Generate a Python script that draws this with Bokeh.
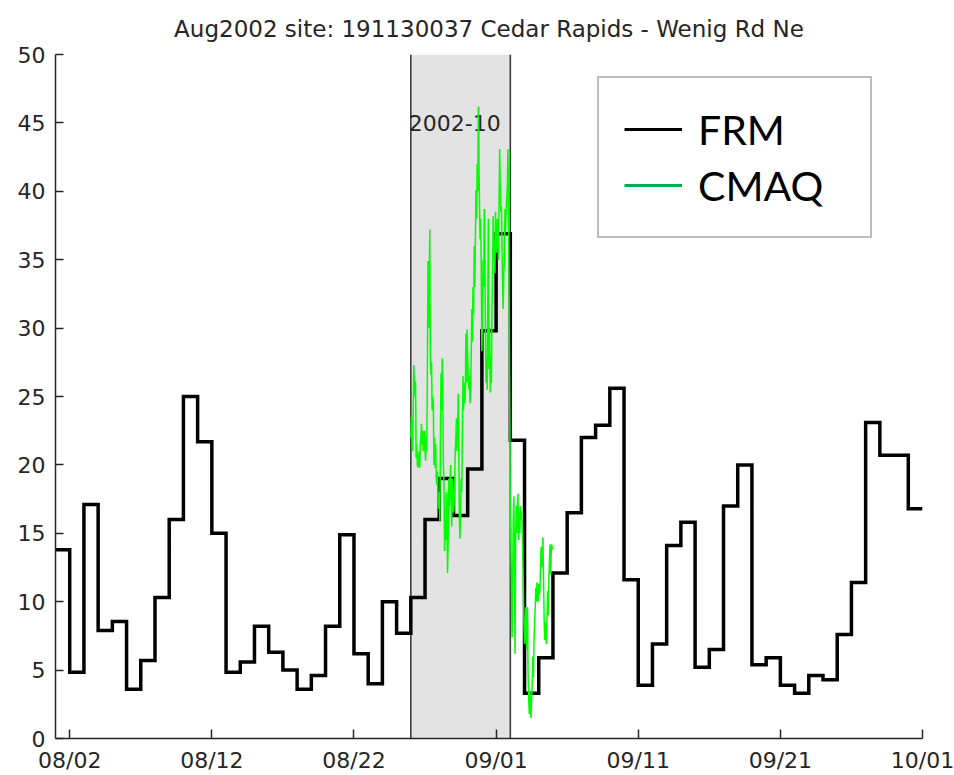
from datetime import datetime, timedelta

from bokeh.plotting import figure
from bokeh.models import (Range1d, FixedTicker, DatetimeTickFormatter, BoxAnnotation,
                          Span, Legend, LegendItem, Label)
from bokeh.embed import file_html
from bokeh.resources import INLINE

# ---------------- data ----------------
title_text = "Aug2002 site: 191130037 Cedar Rapids - Wenig Rd Ne"
series_names = ["FRM", "CMAQ"]

x_start = "2002-08-01"
x_end = "2002-10-01"
x_tick_dates = ["2002-08-02", "2002-08-12", "2002-08-22", "2002-09-01",
                "2002-09-11", "2002-09-21", "2002-10-01"]
y_ticks = [0, 5, 10, 15, 20, 25, 30, 35, 40, 45, 50]

# FRM daily values, 08/01 .. 09/30
frm_start = "2002-08-01"
frm_daily = [13.8, 4.85, 17.1, 7.9, 8.55, 3.6, 5.7, 10.3, 16.0, 25.0,
             21.7, 15.0, 4.85, 5.6, 8.2, 6.3, 5.0, 3.6, 4.6, 8.2,
             14.9, 6.2, 4.0, 10.0, 7.7, 10.3, 16.0, 19.0, 16.3, 19.7,
             29.8, 36.9, 21.8, 3.3, 5.9, 12.1, 16.5, 22.0, 22.9, 25.6,
             11.6, 3.9, 6.9, 14.1, 15.8, 5.2, 6.5, 17.0, 20.0, 5.4,
             5.9, 3.9, 3.3, 4.6, 4.3, 7.6, 11.4, 23.1, 20.7, 20.7,
             16.8]

# CMAQ hourly values from 08/26 00:00
cmaq_start = "2002-08-26 00:00"
cmaq_hourly = [
    22.0, 23.5, 22.5, 21.0, 24.0, 27.3, 26.0, 25.0, 26.1, 20.5,
    21.5, 20.0, 19.8, 20.2, 21.0, 19.8, 21.5, 22.0, 23.0, 21.5,
    22.5, 21.0, 21.5, 22.5, 21.0, 20.3, 22.0, 21.0, 27.0, 34.9,
    30.0, 33.0, 37.2, 28.0, 26.6, 27.5, 24.0, 25.0, 24.5, 20.0,
    22.0, 19.8, 21.5, 19.0, 18.5, 19.5, 17.5, 16.8, 18.0, 15.9,
    22.0, 26.7, 24.0, 27.8, 25.0, 20.0, 18.5, 13.7, 16.0, 14.5,
    18.0, 17.0, 12.1, 14.5,
    19.0, 17.0, 18.0, 20.0, 17.5, 15.5, 19.0, 18.0, 16.5, 17.0,
    19.0, 21.0, 22.0, 23.4, 21.0, 22.5, 25.2, 21.0, 16.0, 14.6,
    17.0, 19.0, 18.0, 22.0, 26.5, 24.0, 26.0, 24.5, 25.0, 29.6,
    26.0, 29.9, 28.0, 26.3, 25.5, 26.5, 24.5, 25.5, 28.0, 31.4,
    29.0, 33.0, 31.0, 36.0, 33.0, 36.5, 40.1, 38.0, 42.0, 40.0,
    46.2, 42.0, 39.0, 36.5, 38.0, 34.0, 28.3, 31.0, 35.0, 33.0,
    38.7, 36.0, 30.0, 26.0, 28.0, 25.5, 32.0, 38.0, 27.0, 30.0,
    25.3, 28.0, 26.0, 31.0, 34.0, 38.2, 35.0, 36.5, 34.0, 38.5,
    35.5, 36.0, 38.0, 36.5, 35.0, 39.0, 43.1, 40.0, 38.5, 38.9,
    36.0, 33.0, 31.4, 34.0, 35.0, 38.7, 37.0, 38.5, 39.6, 40.5,
    43.1, 40.0, 32.0, 25.0, 16.0, 14.3,
    11.0, 7.4, 12.0, 16.0, 17.7, 12.0, 6.2, 15.0, 17.0, 15.0,
    17.2, 17.9, 14.5, 16.5, 15.0, 17.0, 16.0, 16.6, 15.5, 14.0,
    11.0, 8.5, 6.9, 7.5, 9.6, 8.0, 6.5, 9.6, 4.7, 3.0,
    1.8, 3.5, 2.0, 1.5, 3.0, 4.0, 6.0, 4.5, 7.0, 8.5,
    9.5, 11.0, 10.0, 11.4, 11.3, 10.0, 11.3, 10.5, 10.8, 12.5,
    14.0, 12.5, 13.5, 14.7, 12.0, 9.0, 7.2, 8.5, 7.5, 6.9,
    9.0, 10.8, 9.0, 11.5, 13.0, 14.2, 12.0, 13.5, 14.2, 13.8,
]

episode_start = "2002-08-26"
episode_end = "2002-09-02"
episode_label = "2002-10"
episode_label_y = 45

# ---------------- helpers ----------------
EPOCH = datetime(1970, 1, 1)


def ms(d):
    if isinstance(d, str):
        d = datetime.fromisoformat(d)
    return (d - EPOCH).total_seconds() * 1000.0


# FRM as a daily step
d0 = datetime.fromisoformat(frm_start)
edges = [d0 + timedelta(days=i) for i in range(len(frm_daily) + 1)]
frm_x, frm_y = [], []
for i, v in enumerate(frm_daily):
    frm_x += [ms(edges[i]), ms(edges[i + 1])]
    frm_y += [v, v]

c0 = datetime.fromisoformat(cmaq_start)
cmaq_x = [ms(c0 + timedelta(hours=i)) for i in range(len(cmaq_hourly))]

# ---------------- figure ----------------
TXT = "#262626"
p = figure(width=954, height=775, x_axis_type="datetime",
           x_range=Range1d(ms(x_start), ms(x_end)), y_range=Range1d(0, 50),
           output_backend="svg", toolbar_location=None,
           min_border_left=55, min_border_right=32, min_border_top=53, min_border_bottom=37)
p.outline_line_color = None
p.background_fill_color = "white"
p.xgrid.visible = False
p.ygrid.visible = False

p.title.text = title_text
p.title.align = "center"
p.title.text_font = "DejaVu Sans"
p.title.text_font_size = "23px"
p.title.text_font_style = "normal"
p.title.text_color = TXT
p.title.standoff = 26

# shaded episode
box = BoxAnnotation(left=ms(episode_start), right=ms(episode_end), bottom=0, top=50,
                    fill_color="#e3e3e3", fill_alpha=1.0, line_color=None, level="underlay")
p.add_layout(box)
for d in (episode_start, episode_end):
    p.add_layout(Span(location=ms(d), dimension="height", line_color="#3c3c3c",
                      line_width=1.6, level="underlay"))
p.add_layout(Label(x=ms(episode_start), y=episode_label_y, text=episode_label,
                   text_baseline="middle", text_align="left", text_font="DejaVu Sans",
                   text_font_size="22px", text_color=TXT, level="underlay", x_offset=-2))

r_frm = p.line(frm_x, frm_y, line_color="black", line_width=3.5, line_join="miter")
r_cmaq = p.line(cmaq_x, cmaq_hourly, line_color="#00ff00", line_width=1.5)

# legend proxies (a single undefined point: nothing drawn in the plot)
nan = float("nan")
r_frm_leg = p.line([ms(x_start)], [nan], line_color="black", line_width=3)
r_cmaq_leg = p.line([ms(x_start)], [nan], line_color="#00b050", line_width=3)

legend = Legend(items=[LegendItem(label=series_names[0], renderers=[r_frm_leg]),
                       LegendItem(label=series_names[1], renderers=[r_cmaq_leg])],
                location=(542, 500), margin=0, padding=25, spacing=4,
                glyph_width=58, glyph_height=52, label_height=52, label_width=147,
                label_standoff=16, label_text_font="Lato", label_text_font_size="41px",
                label_text_color="black", border_line_color="#7a7a7a", border_line_width=2,
                background_fill_color="white", background_fill_alpha=1.0)
p.add_layout(legend, "center")

# axes
for ax in (p.xaxis[0], p.yaxis[0]):
    ax.axis_line_color = TXT
    ax.axis_line_width = 1.5
    ax.major_tick_line_color = TXT
    ax.major_tick_line_width = 1.5
    ax.minor_tick_line_color = None
    ax.major_tick_out = 0
    ax.major_label_text_font = "DejaVu Sans"
    ax.major_label_text_font_size = "22px"
    ax.major_label_text_color = TXT

p.xaxis.major_tick_in = 9
p.yaxis.major_tick_in = 8
p.xaxis.major_label_standoff = 9
p.yaxis.major_label_standoff = 10
p.xaxis.ticker = FixedTicker(ticks=[ms(d) for d in x_tick_dates])
fmt = "%m/%d"
p.xaxis.formatter = DatetimeTickFormatter(days=fmt, months=fmt, hours=fmt, years=fmt,
                                          hourmin=fmt, minutes=fmt)
p.yaxis.ticker = FixedTicker(ticks=y_ticks)

open("out.html", "w").write(file_html(p, INLINE))
